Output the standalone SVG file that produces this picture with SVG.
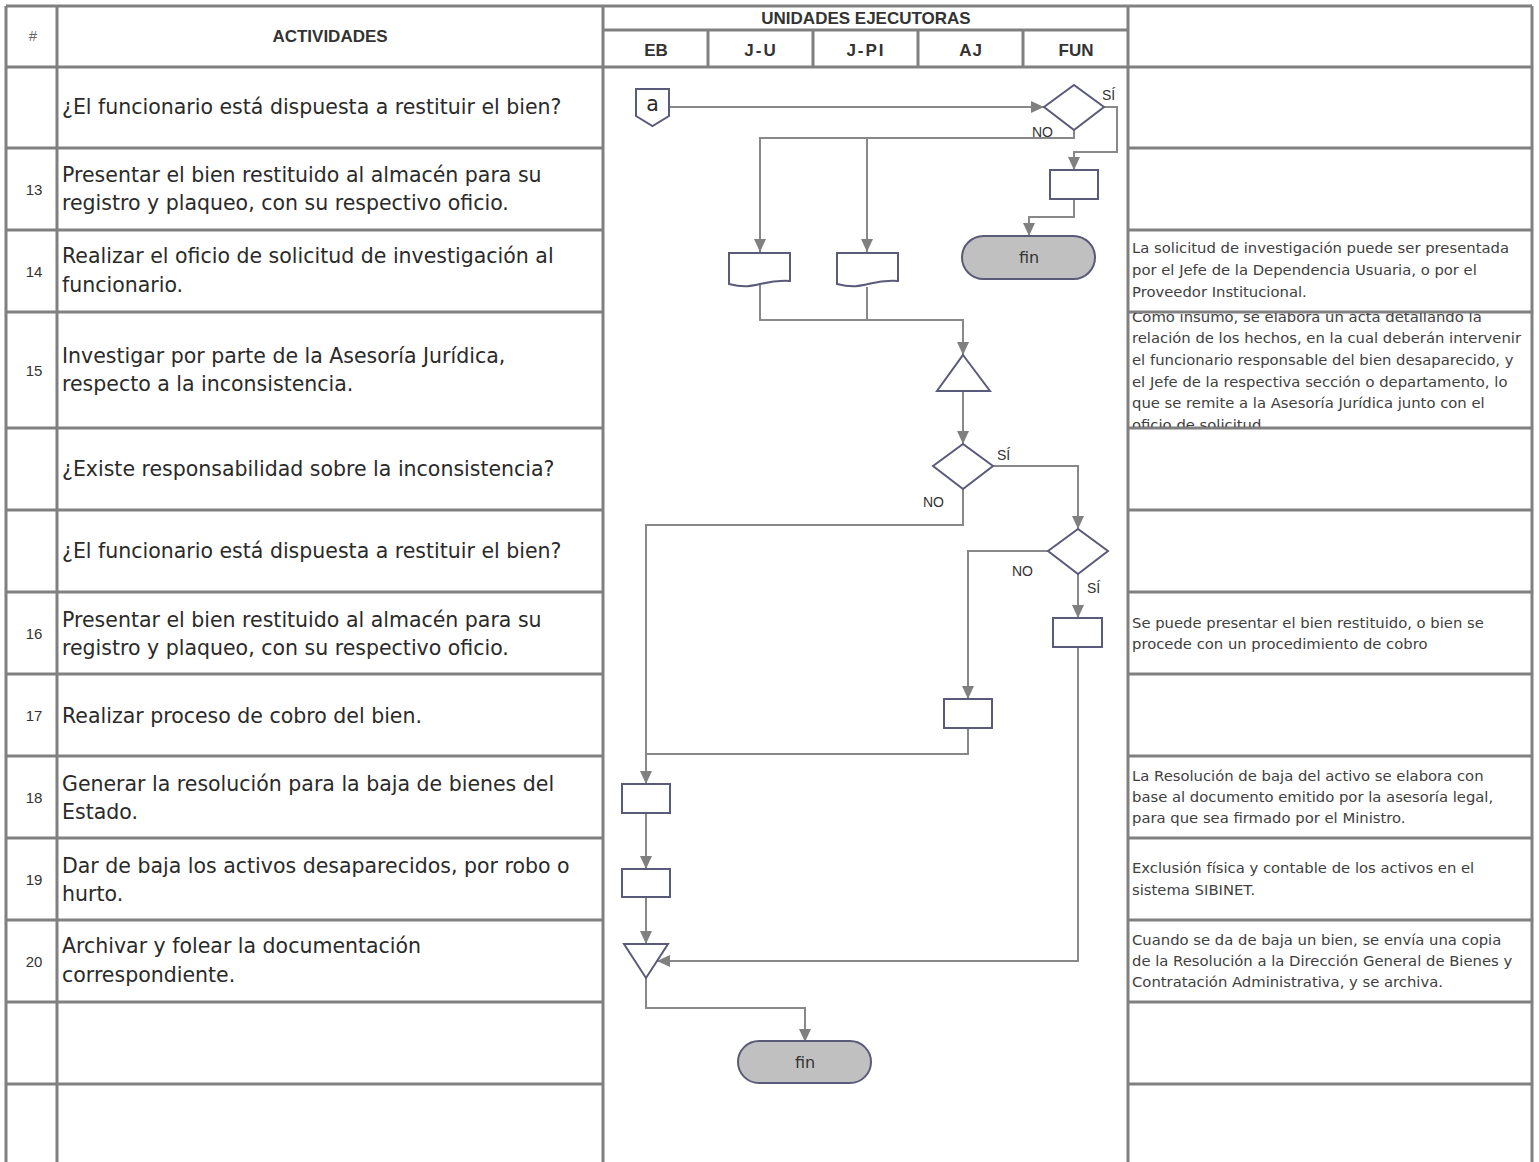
<svg xmlns="http://www.w3.org/2000/svg" width="1539" height="1162" viewBox="0 0 1539 1162">
<style>
.grid{stroke:#808080;stroke-width:3;fill:none}
.act{font-family:"DejaVu Sans","Liberation Sans",sans-serif;font-size:20.5px;fill:#2a2a2a}
.num{font-family:"Liberation Sans",Arial,sans-serif;font-size:15px;fill:#333;text-anchor:middle}
.hdr{font-family:"Liberation Sans",Arial,sans-serif;font-size:17px;font-weight:bold;fill:#333;text-anchor:middle}
.note{font-family:"DejaVu Sans","Liberation Sans",sans-serif;font-size:14.8px;fill:#404040}
.lbl{font-family:"Liberation Sans",Arial,sans-serif;font-size:14px;fill:#333}
.shp{fill:#fff;stroke:#5a5a7a;stroke-width:2}
.term{fill:#c0c0c0;stroke:#5a5a7a;stroke-width:2}
.cn{fill:none;stroke:#888;stroke-width:2}
.arr{marker-end:url(#ah)}
</style>
<defs>
<marker id="ah" markerWidth="13" markerHeight="12" refX="13" refY="6" orient="auto" markerUnits="userSpaceOnUse"><path d="M0,0 L13,6 L0,12 Z" fill="#808080"/></marker>
<clipPath id="c15"><rect x="1130" y="313" width="400" height="114"/></clipPath>
</defs>
<rect width="1539" height="1162" fill="#fff"/>
<g id="grid">
<path class="grid" d="M6,6 H1532 M603,30 H1128 M6,67 H1532 M6,6 V1162 M57,6 V1162 M603,6 V1162 M1128,6 V1162 M1532,6 V1162 M708,30 V67 M813,30 V67 M918,30 V67 M1023,30 V67"/>
<path class="grid" d="M6,148 H603 M6,230 H603 M6,312 H603 M6,428 H603 M6,510 H603 M6,592 H603 M6,674 H603 M6,756 H603 M6,838 H603 M6,920 H603 M6,1002 H603 M6,1084 H603"/>
<path class="grid" d="M1128,148 H1532 M1128,230 H1532 M1128,312 H1532 M1128,428 H1532 M1128,510 H1532 M1128,592 H1532 M1128,674 H1532 M1128,756 H1532 M1128,838 H1532 M1128,920 H1532 M1128,1002 H1532 M1128,1084 H1532"/>
</g>
<g id="header">
<text x="33" y="41" class="num" style="fill:#666">#</text>
<text x="330" y="42" class="hdr">ACTIVIDADES</text>
<text x="866" y="24" class="hdr">UNIDADES EJECUTORAS</text>
<text x="656" y="56" class="hdr">EB</text>
<text x="761" y="56" class="hdr" style="letter-spacing:2px">J-U</text>
<text x="866" y="56" class="hdr" style="letter-spacing:2px">J-PI</text>
<text x="971" y="56" class="hdr" style="letter-spacing:1px">AJ</text>
<text x="1076" y="56" class="hdr">FUN</text>
</g>
<g id="activities">
<text class="act" x="62" y="114">¿El funcionario está dispuesta a restituir el bien?</text>
<text class="num" x="34" y="195">13</text>
<text class="act" x="62" y="182">Presentar el bien restituido al almacén para su</text>
<text class="act" x="62" y="210">registro y plaqueo, con su respectivo oficio.</text>
<text class="num" x="34" y="277">14</text>
<text class="act" x="62" y="263">Realizar el oficio de solicitud de investigación al</text>
<text class="act" x="62" y="292">funcionario.</text>
<text class="num" x="34" y="376">15</text>
<text class="act" x="62" y="363">Investigar por parte de la Asesoría Jurídica,</text>
<text class="act" x="62" y="391">respecto a la inconsistencia.</text>
<text class="act" x="62" y="476">¿Existe responsabilidad sobre la inconsistencia?</text>
<text class="act" x="62" y="558">¿El funcionario está dispuesta a restituir el bien?</text>
<text class="num" x="34" y="639">16</text>
<text class="act" x="62" y="627">Presentar el bien restituido al almacén para su</text>
<text class="act" x="62" y="655">registro y plaqueo, con su respectivo oficio.</text>
<text class="num" x="34" y="721">17</text>
<text class="act" x="62" y="723">Realizar proceso de cobro del bien.</text>
<text class="num" x="34" y="803">18</text>
<text class="act" x="62" y="791">Generar la resolución para la baja de bienes del</text>
<text class="act" x="62" y="819">Estado.</text>
<text class="num" x="34" y="885">19</text>
<text class="act" x="62" y="873">Dar de baja los activos desaparecidos, por robo o</text>
<text class="act" x="62" y="901">hurto.</text>
<text class="num" x="34" y="967">20</text>
<text class="act" x="62" y="953">Archivar y folear la documentación</text>
<text class="act" x="62" y="982">correspondiente.</text>
</g>
<g id="notes">
<text class="note" x="1132" y="253">La solicitud de investigación puede ser presentada</text>
<text class="note" x="1132" y="275">por el Jefe de la Dependencia Usuaria, o por el</text>
<text class="note" x="1132" y="297">Proveedor Institucional.</text>
<g clip-path="url(#c15)">
<text class="note" x="1132" y="322">Como insumo, se elabora un acta detallando la</text>
<text class="note" x="1132" y="343">relación de los hechos, en la cual deberán intervenir</text>
<text class="note" x="1132" y="365">el funcionario responsable del bien desaparecido, y</text>
<text class="note" x="1132" y="387">el Jefe de la respectiva sección o departamento, lo</text>
<text class="note" x="1132" y="408">que se remite a la Asesoría Jurídica junto con el</text>
<text class="note" x="1132" y="430">oficio de solicitud.</text>
</g>
<text class="note" x="1132" y="628">Se puede presentar el bien restituido, o bien se</text>
<text class="note" x="1132" y="649">procede con un procedimiento de cobro</text>
<text class="note" x="1132" y="781">La Resolución de baja del activo se elabora con</text>
<text class="note" x="1132" y="802">base al documento emitido por la asesoría legal,</text>
<text class="note" x="1132" y="823">para que  sea firmado por el Ministro.</text>
<text class="note" x="1132" y="873">Exclusión física y contable de los activos en el</text>
<text class="note" x="1132" y="895">sistema SIBINET.</text>
<text class="note" x="1132" y="945">Cuando se da de baja un bien, se envía una copia</text>
<text class="note" x="1132" y="966">de la Resolución a la Dirección General  de Bienes y</text>
<text class="note" x="1132" y="987">Contratación Administrativa, y se archiva.</text>
</g>
<g id="connectors">
<path class="cn arr" d="M670,107 H1044"/>
<path class="cn arr" d="M1074,130 V138 H760 V252"/>
<path class="cn arr" d="M867,138 V252"/>
<path class="cn arr" d="M1104,107 H1117 V152 H1074 V170"/>
<path class="cn arr" d="M1074,199 V217 H1029 V236"/>
<path class="cn arr" d="M760,285 V320 H963 V355"/>
<path class="cn" d="M867,287 V320"/>
<path class="cn arr" d="M963,391 V444"/>
<path class="cn arr" d="M993,466 H1078 V529"/>
<path class="cn arr" d="M963,489 V525 H646 V784"/>
<path class="cn arr" d="M1048,551 H968 V699"/>
<path class="cn arr" d="M1078,574 V618"/>
<path class="cn" d="M968,728 V754 H646"/>
<path class="cn arr" d="M646,813 V869"/>
<path class="cn arr" d="M646,897 V944"/>
<path class="cn arr" d="M1078,647 V961 H657"/>
<path class="cn arr" d="M646,978 V1008 H805 V1042"/>
</g>
<g id="labels">
<text class="lbl" x="1102" y="100">SÍ</text>
<text class="lbl" x="1032" y="137">NO</text>
<text class="lbl" x="997" y="460">SÍ</text>
<text class="lbl" x="923" y="507">NO</text>
<text class="lbl" x="1012" y="576">NO</text>
<text class="lbl" x="1087" y="593">SÍ</text>
</g>
<g id="n_a"><path class="shp" d="M636,89 H669 V116 L652.5,126 L636,116 Z"/><text x="652.5" y="111" class="act" text-anchor="middle">a</text></g>
<g id="n_d1"><path class="shp" d="M1044,107 L1074,85 L1104,107 L1074,130 Z"/></g>
<g id="n_r1"><rect class="shp" x="1050" y="170" width="48" height="29"/></g>
<g id="n_fin1"><rect class="term" x="962" y="236" width="133" height="43" rx="21.5"/><text x="1029" y="263" class="note" text-anchor="middle" style="font-size:16px;fill:#333">fin</text></g>
<g id="n_doc1"><path class="shp" d="M729,253 H790 V281 C760,279 757,291 729,284 Z"/></g>
<g id="n_doc2"><path class="shp" d="M837,253 H898 V281 C868,279 865,291 837,284 Z"/></g>
<g id="n_tri1"><path class="shp" d="M963,355 L990,391 L937,391 Z"/></g>
<g id="n_d2"><path class="shp" d="M933,466 L963,444 L993,466 L963,489 Z"/></g>
<g id="n_d3"><path class="shp" d="M1048,551 L1078,529 L1108,551 L1078,574 Z"/></g>
<g id="n_r2"><rect class="shp" x="1053" y="618" width="49" height="29"/></g>
<g id="n_r3"><rect class="shp" x="944" y="699" width="48" height="29"/></g>
<g id="n_r4"><rect class="shp" x="622" y="784" width="48" height="29"/></g>
<g id="n_r5"><rect class="shp" x="622" y="869" width="48" height="28"/></g>
<g id="n_tri2"><path class="shp" d="M624,944 L668,944 L646,978 Z"/></g>
<g id="n_fin2"><rect class="term" x="738" y="1041" width="133" height="42" rx="21"/><text x="805" y="1068" class="note" text-anchor="middle" style="font-size:16px;fill:#333">fin</text></g>
</svg>
